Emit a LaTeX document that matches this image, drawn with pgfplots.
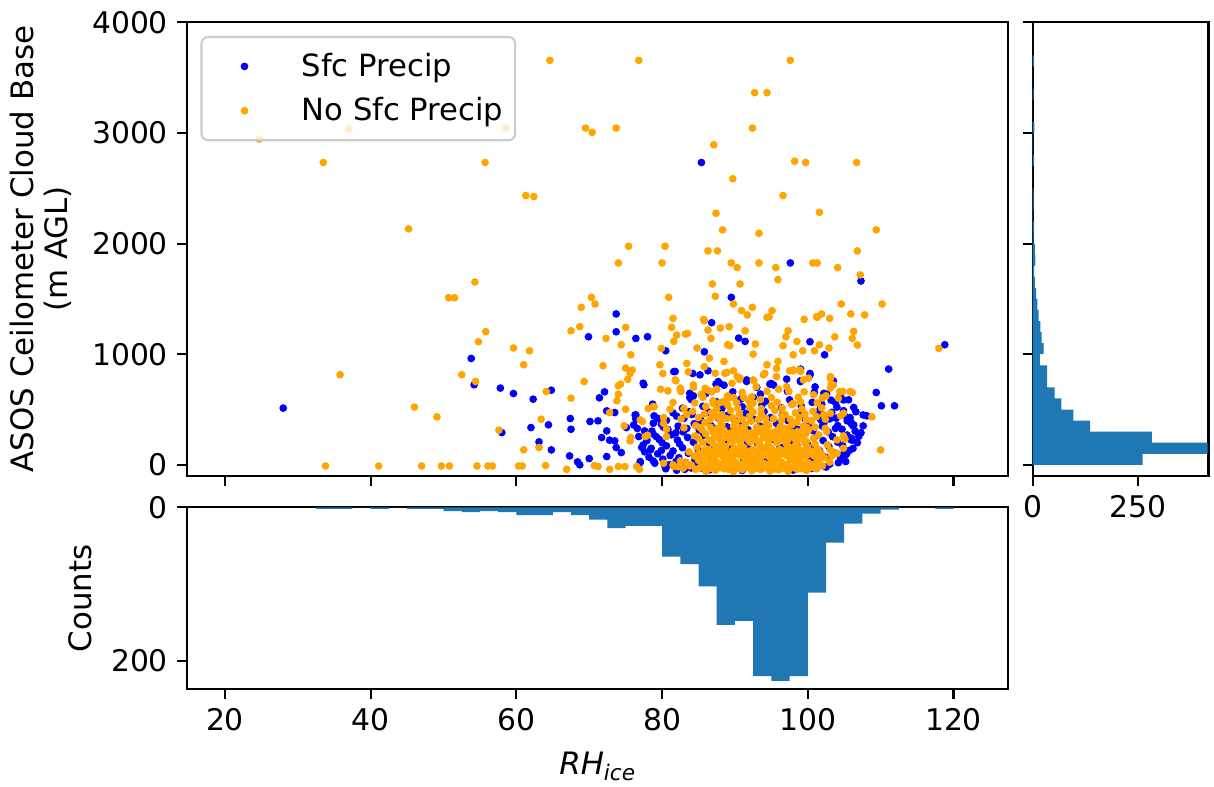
\documentclass[border=0pt]{standalone}
\usepackage{fontspec}
\setmainfont{DejaVu Sans}
\usepackage{pgfplots}
\pgfplotsset{compat=1.18}
\definecolor{histblue}{RGB}{31,119,180}
\definecolor{mplorange}{RGB}{255,165,0}
\definecolor{mplblue}{RGB}{0,0,255}
\pgfplotsset{
  myax/.style={
    scale only axis,
    anchor=north west,
    tick align=outside,
    tick pos=left,
    major tick length=3.8pt,
    tick style={black, line width=0.8pt},
    axis line style={line width=0.8pt},
    /pgf/number format/assume math mode=true,
    /pgf/number format/1000 sep={},
    scaled ticks=false,
    ticklabel style={font=\fontsize{11.3}{13}\selectfont},
    label style={font=\fontsize{11.7}{13}\selectfont, inner sep=0pt},
  }
}
\begin{document}
\begin{tikzpicture}
\path (0,0) rectangle (460.1pt,-297.9pt);
% ---------------- main scatter ----------------
\begin{axis}[myax,
  at={(70.99pt,-8.45pt)},
  width=311.2pt, height=171.8pt,
  xmin=14.83, xmax=127.54, ymin=-97, ymax=4000,
  xtick={20,40,...,120}, xticklabels={},
  ytick={0,1000,...,4000},
  ylabel={ASOS Ceilometer Cloud Base\\(m AGL)},
  ylabel style={align=center, at={(axis description cs:-0.1404,0.5)}, anchor=south},
  legend style={at={(0.016,0.97)}, anchor=north west, draw=black!20, line width=0.8pt,
    fill=white, fill opacity=0.8, text opacity=1, rounded corners=2.5pt,
    font=\fontsize{11.6}{13.5}\selectfont, inner xsep=2.5pt, inner ysep=4pt, row sep=2.5pt,
    /tikz/every odd column/.append style={column sep=6pt}},
  legend cell align=left,
  legend image code/.code={\path[draw=none,fill=none] (0pt,-1pt) rectangle (27.5pt,1pt); \draw[#1] plot[only marks] coordinates {(13.8pt,0pt)};},
  legend image post style={fill opacity=1, draw opacity=1},
]
\addplot[only marks, mark=*, mark size=1.25pt, color=mplblue, mark options={line width=0.4pt}] coordinates {
(28.0,513)(53.8,962)(54.2,724)(57.8,694)(59.6,645)(58.0,292)(85.4,2733)(97.6,1825)(89.5,1514)(73.7,1364)(86.8,1285)(107.3,1662)
(73.7,1203)(69.9,1158)(76.4,1143)(78.0,1158)(80.5,1031)(81.8,844)(85.8,1022)(84.2,826)(86.3,850)(90.5,1146)(91.4,1116)
(62.3,594)(64.8,675)(72.1,660)(71.4,606)(77.5,724)(67.4,419)(67.5,322)(62.0,337)(64.4,362)(70.1,392)(71.2,398)(72.4,488)(73.5,473)
(76.4,452)(76.4,413)(75.1,337)(76.6,329)(72.4,307)(71.7,247)(72.8,223)(73.5,217)(63.1,208)(64.8,135)(67.3,81)(68.4,27)(68.7,0)
(70.0,57)(72.4,75)(73.7,157)(74.4,111)(77.2,157)(77.9,232)(78.8,277)(77.6,307)(78.9,443)(78.7,549)(77.0,21)(84.3,624)(83.8,609)
(85.2,814)(87.4,730)(87.9,736)(91.6,754)(93.0,700)
(118.8,1086)(111.1,866)(100.3,1113)(102.3,995)(109.4,654)(110.1,534)(111.9,534)(107.6,353)(108.1,443)(106.2,353)(106.1,223)(104.9,96)
(104.5,639)(105.6,588)(106.3,519)(105.8,428)(103.5,760)(102.6,639)(101.9,549)(103.8,564)(100.3,826)(99.0,760)(97.1,775)(94.8,730)
(92.5,609)(99.0,866)
(77.4,738)(81.6,843)(83.8,647)(87.7,753)(91.6,768)(95.3,722)(100.3,813)(99.0,753)(102.2,647)(104.9,587)(107.6,451)(106.3,361)(106.0,241)
(76.3,451)(76.1,361)(76.8,256)(77.4,180)(78.4,135)(77.0,30)(78.8,376)
(80.5,-35)(82,-48)(84,-28)(86.5,-45)(89,-30)(91,-50)(93.5,-38)(96,-25)(98,-47)(100.5,-32)(102.5,-20)
(79,15)(81,2)(83.2,22)(85,8)(87.4,-2)(89.6,18)(92,5)(94.1,25)(96.3,0)(98.7,12)(101.2,28)(103,6)
(78.2,70)(80.1,52)(82.3,65)(84.5,45)(86.6,72)(88.8,58)(91.2,48)(93.3,75)(95.5,55)(97.9,66)(100.2,44)(102.4,70)(104.5,58)
(77.6,118)(79.4,100)(81.5,125)(83.6,105)(85.9,98)(88,122)(90.3,108)(92.6,95)(94.7,126)(97,112)(99.4,100)(101.6,128)(103.7,110)(105.3,95)
(78.5,150)(80.6,172)(82.8,155)(84.9,145)(87.2,168)(89.4,152)(91.7,175)(93.9,148)(96.2,162)(98.5,178)(100.8,150)(102.9,165)(104.8,172)(106.2,148)
(77.9,218)(80,200)(82.1,225)(84.3,205)(86.5,195)(88.7,222)(90.9,208)(93.1,198)(95.4,228)(97.7,212)(99.9,196)(102.1,220)(104.1,205)(105.9,228)
(79.2,255)(81.3,272)(83.5,248)(85.7,268)(87.8,252)(90.1,275)(92.4,245)(94.6,262)(96.8,278)(99.1,250)(101.3,266)(103.4,255)(105.4,270)(107,258)
(78.6,305)(80.8,320)(82.9,298)(85.1,315)(87.3,328)(89.5,300)(91.8,318)(94,308)(96.3,295)(98.5,325)(100.7,310)(102.8,298)(104.7,322)(106.5,305)
(79.9,368)(82.2,350)(84.4,372)(86.7,355)(88.9,345)(91.1,370)(93.4,352)(95.7,375)(97.9,348)(100.1,365)(102.2,378)(104.1,355)(106,370)
(80.6,402)(83,420)(85.3,405)(87.7,425)(90,398)(92.5,415)(94.9,428)(97.3,400)(99.6,418)(101.8,405)(103.9,422)(105.4,398)
(81.5,470)(84.1,455)(86.4,478)(89,448)(91.5,465)(94,482)(96.5,452)(98.9,470)(101.3,458)(103.3,475)(105,450)
(82.8,512)(85.6,530)(88.2,508)(91,525)(93.7,540)(96.4,515)(99.1,532)(101.7,505)(104,522)
(84,590)(87.5,570)(90.8,595)(94.2,575)(97.5,588)(100.6,565)(103.2,585)
(86,645)(89.7,660)(93.5,640)(97.2,665)(100.9,655)
(88.5,720)(95,735)(101,705)
(78.8,35)(80.4,-15)(81.9,30)(79.9,130)(81.1,85)(82.4,190)(79.6,230)(81.9,290)(80.2,340)(83.4,330)(79.4,420)(82,440)(83.7,480)(84.9,350)
(83.1,-40)(85.5,-30)(104.2,20)(105.7,130)(106.8,200)(107.3,290)(105.9,390)(104.9,490)(106.6,480)(103,415)(102,350)(103.8,330)(105.2,30)
};
\addlegendentry{Sfc Precip}
\addplot[only marks, mark=*, mark size=1.25pt, color=mplorange, mark options={line width=0.4pt}] coordinates {
(24.7,2945)(37.0,3035)(58.6,3044)(33.5,2733)(55.7,2733)(61.3,2434)(45.2,2133)(54.3,1653)(50.7,1511)(51.5,1511)(55.8,1204)(54.8,1113)
(59.6,1056)(61.0,905)(35.8,815)(52.5,815)(54.4,754)(46.0,522)(49.1,434)(57.6,314)(61.0,136)
(33.8,-10)(41.1,-10)(47.0,-10)(49.7,-10)(50.8,-10)(54.6,-10)(56.1,-10)(56.7,-10)(60.3,-10)(60.8,-10)
(64.6,3656)(76.8,3656)(97.6,3656)(92.7,3364)(94.4,3364)(69.5,3044)(70.4,3005)(73.7,3044)(92.4,3044)(87.1,2893)(98.2,2745)(99.7,2733)
(89.7,2586)(62.4,2425)(96.6,2434)(101.6,2283)(87.4,2274)(88.3,2124)(93.3,2093)(75.4,1976)(80.4,1976)(86.3,1934)(87.6,1934)
(74.0,1825)(80.0,1825)(89.5,1825)(90.3,1783)(93.3,1825)(100.7,1825)(101.3,1825)(95.6,1783)(95.9,1674)(86.9,1635)(90.7,1635)
(70.3,1514)(70.8,1454)(68.9,1424)(80.9,1514)(87.3,1523)(89.8,1454)(90.9,1394)(92.4,1424)(91.7,1355)(95.1,1394)(94.4,1333)(94.7,1339)
(81.5,1324)(85.7,1315)(99.5,1315)(101.2,1339)
(106.7,2733)(109.4,2124)(106.8,1934)(104.1,1783)(107.2,1717)(104.6,1454)(110.2,1454)(105.9,1364)(107.8,1355)(101.9,1364)(101.3,1333)(103.0,1324)
(67.5,1212)(68.7,1249)(72.3,1143)(75.0,1243)(74.4,1086)(75.7,995)(71.9,896)(75.0,875)(75.9,856)(75.6,826)(75.3,772)(69.3,754)
(74.0,715)(74.3,730)(74.0,639)(73.8,579)(67.5,603)(64.1,663)(61.8,1031)(63.4,413)(63.1,157)(64.0,-6)(66.9,-40)(70.7,-6)(71.2,-15)
(72.8,-40)(74.0,-15)(74.9,-15)(76.9,-40)(72.8,473)(75.0,503)(74.8,353)(75.7,247)(75.6,217)(77.3,392)(78.0,268)(78.1,509)(78.9,525)
(79.7,905)(80.1,826)(79.9,1053)(81.3,1243)(82.0,1173)(81.6,1116)(83.2,1182)(83.5,1188)(79.8,684)(80.8,669)(81.9,760)(82.5,694)
(82.6,663)(83.4,917)(83.6,841)(84.3,700)(85.8,1303)(86.3,1218)(86.7,1143)(84.8,1056)(85.8,887)(86.5,965)(88.0,1237)(89.2,1249)
(88.5,935)(88.9,835)(89.8,850)(90.6,772)(91.4,1212)(89.0,1086)(89.3,1077)(92.8,1092)(92.5,1001)(92.6,760)(91.2,609)(91.9,579)
(89.0,624)(89.8,609)(85.4,639)(86.3,675)(87.5,684)(87.0,579)(88.0,564)(81.5,564)(81.1,503)(80.2,428)(80.6,322)(82.5,36)(81.5,0)(83.8,-9)
(106.3,1206)(106.1,1143)(106.8,1083)(103.7,1158)(101.6,1086)(100.9,1031)(102.9,1056)(97.3,1212)(97.0,1158)(96.6,1077)(98.5,1116)
(99.3,1031)(98.0,995)(95.9,935)(94.4,905)(95.7,872)(97.5,850)(98.0,850)(99.0,844)(100.1,784)(103.1,784)(103.2,730)(103.1,694)
(104.8,663)(106.1,654)(104.2,603)(102.5,624)(100.8,633)(93.9,814)(96.0,684)(97.4,663)(104.5,443)(108.8,434)(110.0,135)(118.0,1053)
(104.9,262)(105.1,232)(103.3,81)(104.0,102)
(81.8,768)(82.5,677)(84.3,722)(85.9,692)(85.4,632)(87.3,828)(88.6,828)(90.3,798)(89.6,738)(90.7,783)(92.5,768)(92.9,707)(94.1,828)
(95.7,798)(97.1,707)(98.0,858)(98.9,858)(99.4,768)(103.1,798)(103.5,722)(104.4,662)(105.8,662)(77.7,256)(77.0,406)(78.8,527)
(80.2,376)(80.6,256)(76.5,-15)(80.2,15)(81.6,-15)(82.9,-30)
(103.1,466)(104.9,466)(102.6,301)(104,226)(104.9,150)(103.1,135)
(84.6,-40)(86,-58)(87.3,-48)(88.5,-35)(89.8,-60)(91,-42)(92.3,-52)(93.5,-38)(94.8,-56)(96,-44)(97.3,-58)(98.5,-40)(99.8,-50)(101.2,-36)
(82.2,-18)(84,-2)(85.4,-15)(86.8,-8)(88,-20)(89.3,0)(90.5,-12)(91.8,-22)(93,-4)(94.3,-16)(95.5,2)(96.8,-10)(98,-20)(99.3,-3)(100.6,-14)(102,-8)
(83.3,22)(85,40)(86.3,28)(87.6,18)(88.9,38)(90.1,25)(91.4,42)(92.6,30)(93.9,16)(95.1,36)(96.4,24)(97.6,44)(98.9,28)(100.1,20)(101.5,38)(103,25)
(84.4,80)(85.8,68)(87.1,58)(88.3,78)(89.6,64)(90.8,82)(92.1,70)(93.3,60)(94.6,76)(95.8,66)(97.1,84)(98.3,62)(99.6,72)(100.9,80)(102.3,65)
(83.7,118)(85.2,100)(86.6,112)(87.9,122)(89.1,104)(90.4,116)(91.6,98)(92.9,120)(94.1,108)(95.4,102)(96.6,124)(97.9,110)(99.1,100)(100.4,118)(101.8,106)(103.5,115)
(84.8,160)(86.2,142)(87.5,155)(88.7,165)(90,145)(91.2,158)(92.5,140)(93.7,162)(95,150)(96.2,138)(97.5,160)(98.7,148)(100,156)(101.4,142)
(85.6,200)(87,188)(88.3,178)(89.6,198)(90.8,185)(92.1,205)(93.3,190)(94.6,180)(95.8,200)(97.1,186)(98.3,176)(99.6,196)(101,188)(102.7,182)
(85,240)(86.5,222)(87.9,235)(89.2,245)(90.5,228)(91.8,238)(93,220)(94.3,242)(95.6,230)(96.9,218)(98.2,236)(99.5,226)(100.8,240)
(84.5,262)(86,280)(87.4,268)(88.8,258)(90.2,276)(91.5,265)(92.9,284)(94.2,270)(95.5,260)(96.9,278)(98.3,266)(99.7,282)(101.5,270)
(85.5,318)(87,300)(88.5,312)(90,325)(91.4,306)(92.8,298)(94.2,318)(95.7,308)(97.2,322)(98.6,302)(100.1,315)
(84.6,355)(86.6,342)(88.2,360)(89.8,348)(91.4,365)(93,340)(94.6,356)(96.2,345)(97.8,362)(99.4,350)(101,340)
(85.9,384)(88,400)(90.1,388)(92.2,395)(94.3,380)(96.4,402)(98.5,386)(100.5,398)
(85,428)(87.4,440)(89.7,425)(92,438)(94.2,422)(96.5,445)(98.8,430)(101.2,436)
(84.2,485)(86.8,472)(89.4,490)(92.5,478)(95.5,492)(98.3,470)(100.7,484)
(86,528)(89,540)(92,522)(95,535)(97.8,545)
(88.5,575)(93.5,590)(99,570)
(85.2,-28)(86.5,-35)(87.9,-25)(89.1,-40)(90.4,-30)(91.6,-22)(92.9,-33)(94.1,-27)(95.4,-38)(96.7,-30)(97.9,-24)(99.1,-34)(100.3,-28)
(85.9,12)(87.2,5)(88.4,15)(89.7,8)(90.9,2)(92.2,14)(93.4,6)(94.7,10)(96,16)(97.2,4)(98.4,12)(99.7,6)(101,10)
(84.9,92)(86.2,86)(87.5,95)(88.8,88)(90.1,96)(91.3,90)(92.6,84)(93.8,94)(95.1,88)(96.3,96)(97.6,90)(98.8,84)(100.1,94)(101.3,88)
(85.8,132)(87.1,126)(88.3,136)(89.6,128)(90.9,134)(92.1,126)(93.4,138)(94.6,130)(95.9,126)(97.1,136)(98.4,128)(99.6,134)(100.9,126)
(86.8,212)(88.1,206)(89.4,216)(90.7,208)(92,214)(93.3,206)(94.6,214)(95.9,208)(97.2,216)(98.5,208)(99.8,212)
(87.2,250)(88.6,246)(90,254)(91.3,248)(92.6,256)(93.9,248)(95.2,252)(96.5,246)(97.8,254)(99.1,248)
(87.8,290)(89.3,286)(90.8,294)(92.2,288)(93.6,296)(95,290)(96.4,286)(97.9,292)(99.3,288)
(83,335)(85.2,338)(87.6,330)(90.8,335)(93.7,328)(96.8,332)(99.9,338)(102.4,330)
(82.6,415)(86.6,410)(88.9,418)(91,412)(93.2,408)(95.3,416)(97.6,412)(99.8,408)(102.4,414)
(83.4,455)(85.8,460)(88.2,452)(90.6,458)(93.6,462)(96.9,455)(99.6,460)(102.2,452)
(83,510)(87.5,505)(90.4,512)(93.6,508)(96.5,512)(99.2,505)(101.9,515)
(84.5,560)(87,555)(90.2,562)(92.5,558)(95.8,565)(98,555)(101.3,560)
(85.6,610)(89.2,605)(92.3,615)(95,608)(98.7,612)(102,605)
(86.8,660)(91,655)(94.4,665)(99.5,660)
};
\addlegendentry{No Sfc Precip}
\end{axis}
% ---------------- right histogram ----------------
\begin{axis}[myax,
  at={(391.4pt,-8.45pt)},
  width=66.6pt, height=171.8pt,
  xmin=0, xmax=416, ymin=-97, ymax=4000,
  xtick={0,250},
  ytick={0,1000,...,4000}, yticklabels={},
]
\addplot[xbar interval, fill=histblue, draw=none] coordinates {
(260,0)(414,100)(282,200)(136,300)(96,400)(68,500)(52,600)(34,700)(34,800)(17,900)
(26,1000)(21,1100)(18,1200)(14,1300)(11,1400)(8,1500)(5,1600)(3,1700)(6,1800)(5,1900)
(2,2000)(3,2100)(1,2200)(2,2300)(2,2400)(0,2500)(0,2600)(3,2700)(1,2800)(1,2900)
(4,3000)(0,3100)(0,3200)(2,3300)(0,3400)(0,3500)(3,3600)(0,3700)
};
\end{axis}
% ---------------- bottom histogram ----------------
\begin{axis}[myax,
  at={(70.99pt,-192.3pt)},
  width=311.2pt, height=68.9pt,
  xmin=14.83, xmax=127.54, ymin=0, ymax=236.9,
  y dir=reverse,
  xtick={20,40,...,120},
  ytick={0,200},
  ylabel={Counts},
  ylabel style={at={(axis description cs:-0.116,0.5)}, anchor=south},
  xlabel={\textit{RH}\textsubscript{\textit{ice}}},
  xlabel style={at={(axis description cs:0.5,-0.345)}, anchor=north},
]
\addplot[ybar interval, fill=histblue, draw=none] coordinates {
(32.5,2)(35,2)(37.5,0)(40,2)(42.5,0)(45,2)(47.5,2)(50,5)(52.5,6)(55,5)(57.5,6)(60,10)(62.5,10)
(65,6)(67.5,10)(70,16)(72.5,27)(75,24)(77.5,24)(80,64)(82.5,74)(85,103)(87.5,153)(90,148)
(92.5,220)(95,226)(97.5,220)(100,111)(102.5,46)(105,21)(107.5,8)(110,3)(112.5,0)(115,0)(117.5,2)(120,0)
};
\end{axis}
\end{tikzpicture}
\end{document}
